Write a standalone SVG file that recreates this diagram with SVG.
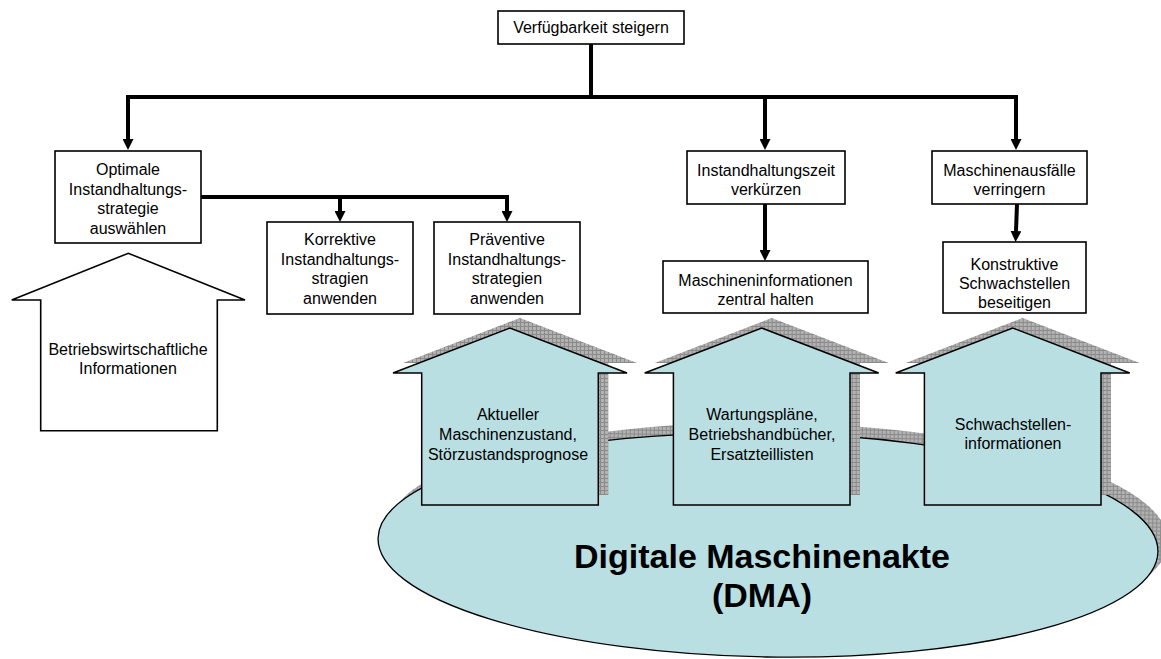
<svg xmlns="http://www.w3.org/2000/svg" width="1161" height="659" viewBox="0 0 1161 659">
<style>
.box{fill:#fff;stroke:#000;stroke-width:1.6}
.t{font-family:"Liberation Sans",Arial,sans-serif;font-size:16px;fill:#000;text-anchor:middle}
.con{fill:none;stroke:#000;stroke-width:4}
.house{fill:#b9dfe3;stroke:#000;stroke-width:1.5}
.shadow{fill:url(#hatch)}
</style>
<defs>
<pattern id="hatch" width="4" height="4" patternUnits="userSpaceOnUse">
<rect width="4" height="4" fill="#b2b2b2"/>
<path d="M0,0.5H4M0.5,0V4" stroke="#8a8a8a" stroke-width="1"/>
</pattern>
<marker id="ah" viewBox="0 0 11 11" refX="0" refY="5.5" markerWidth="11" markerHeight="11" markerUnits="userSpaceOnUse" orient="auto">
<path d="M0,0L11,5.5L0,11z" fill="#000"/>
</marker>
<path id="hs" d="M-88.3,177V45H-117L0,0L117,45H88.3V177Z"/>
</defs>

<g id="connectors">
<path class="con" d="M591,44V97H128V139" marker-end="url(#ah)"/>
<path class="con" d="M589,97H1016V139" marker-end="url(#ah)"/>
<path class="con" d="M765,97V139" marker-end="url(#ah)"/>
<path class="con" d="M201,197H340V211" marker-end="url(#ah)"/>
<path class="con" d="M338,197H507V211" marker-end="url(#ah)"/>
<path class="con" d="M765,204V250" marker-end="url(#ah)"/>
<path class="con" d="M1017,204L1016,231" marker-end="url(#ah)"/>
</g>

<g id="n-top">
<rect class="box" x="498" y="11" width="186" height="33"/>
<text class="t" x="591" y="33">Verfügbarkeit steigern</text>
</g>

<g id="n-optimale">
<rect class="box" x="55" y="151" width="146" height="92"/>
<text class="t"><tspan x="128" y="175">Optimale</tspan><tspan x="128" y="194.5">Instandhaltungs-</tspan><tspan x="128" y="214">strategie</tspan><tspan x="128" y="233.5">auswählen</tspan></text>
</g>

<g id="n-korrektive">
<rect class="box" x="267" y="222" width="146" height="92"/>
<text class="t"><tspan x="340" y="245">Korrektive</tspan><tspan x="340" y="264.5">Instandhaltungs-</tspan><tspan x="340" y="284">stragien</tspan><tspan x="340" y="303.5">anwenden</tspan></text>
</g>

<g id="n-praeventive">
<rect class="box" x="434" y="222" width="146" height="92"/>
<text class="t"><tspan x="507" y="245">Präventive</tspan><tspan x="507" y="264.5">Instandhaltungs-</tspan><tspan x="507" y="284">strategien</tspan><tspan x="507" y="303.5">anwenden</tspan></text>
</g>

<g id="n-zeit">
<rect class="box" x="687" y="151" width="158" height="53"/>
<text class="t"><tspan x="766" y="175.5">Instandhaltungszeit</tspan><tspan x="766" y="195">verkürzen</tspan></text>
</g>

<g id="n-info">
<rect class="box" x="663" y="261" width="205" height="52"/>
<text class="t"><tspan x="765.5" y="286">Maschineninformationen</tspan><tspan x="765.5" y="304.5">zentral halten</tspan></text>
</g>

<g id="n-ausfaelle">
<rect class="box" x="932" y="151" width="155" height="53"/>
<text class="t"><tspan x="1009.5" y="175.5">Maschinenausfälle</tspan><tspan x="1009.5" y="195">verringern</tspan></text>
</g>

<g id="n-konstruktiv">
<rect class="box" x="943" y="242" width="143" height="71"/>
<text class="t"><tspan x="1014.5" y="270">Konstruktive</tspan><tspan x="1014.5" y="289">Schwachstellen</tspan><tspan x="1014.5" y="307.5">beseitigen</tspan></text>
</g>

<g id="n-bwl">
<path class="box" d="M40.7,430.7V300H11.7L128.3,253.3L245,300H217.3V430.7Z" stroke-width="1.5"/>
<text class="t"><tspan x="128" y="355">Betriebswirtschaftliche</tspan><tspan x="128" y="374">Informationen</tspan></text>
</g>

<g id="n-dma">
<ellipse class="shadow" cx="778" cy="535" rx="390" ry="112" transform="rotate(1 778 535)"/>
<ellipse cx="768" cy="545" rx="390" ry="112" fill="#b9dfe3" stroke="#000" stroke-width="1.3" transform="rotate(1 768 545)"/>
<text font-family="Liberation Sans,Arial,sans-serif" font-size="34" font-weight="bold" text-anchor="middle"><tspan x="762" y="568">Digitale Maschinenakte</tspan><tspan x="762" y="607">(DMA)</tspan></text>
</g>

<g id="n-haus1">
<use href="#hs" class="shadow" x="520" y="318"/>
<use href="#hs" class="house" x="510" y="328"/>
<text class="t"><tspan x="508" y="420">Aktueller</tspan><tspan x="508" y="440">Maschinenzustand,</tspan><tspan x="508" y="460">Störzustandsprognose</tspan></text>
</g>

<g id="n-haus2">
<use href="#hs" class="shadow" x="771.7" y="318"/>
<use href="#hs" class="house" x="761.7" y="328"/>
<text class="t"><tspan x="762" y="420">Wartungspläne,</tspan><tspan x="762" y="440">Betriebshandbücher,</tspan><tspan x="762" y="460">Ersatzteillisten</tspan></text>
</g>

<g id="n-haus3">
<use href="#hs" class="shadow" x="1022.7" y="318"/>
<use href="#hs" class="house" x="1012.7" y="328"/>
<text class="t"><tspan x="1013" y="430">Schwachstellen-</tspan><tspan x="1013" y="449">informationen</tspan></text>
</g>
</svg>
